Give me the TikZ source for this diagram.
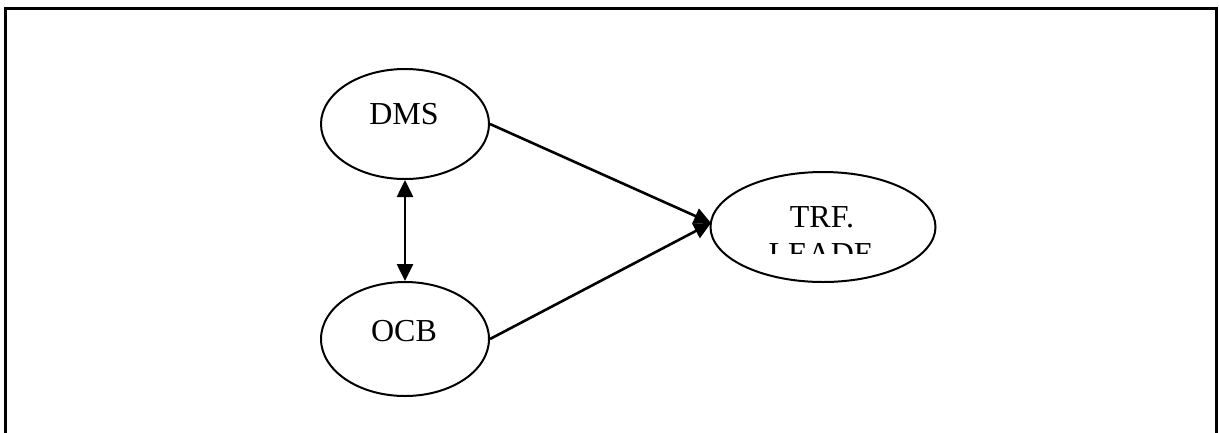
\documentclass[tikz,border=0pt]{standalone}
\usepackage{fontspec}
\setmainfont{Liberation Serif}
\usetikzlibrary{arrows.meta,shapes.geometric}
\begin{document}
\begin{tikzpicture}[x=1pt,y=-1pt,
  oval/.style={draw,line width=2pt,ellipse,inner sep=0pt},
  lbl/.style={font=\fontsize{32}{37}\selectfont,inner sep=0pt,anchor=base},
  tipA/.tip={Triangle[length=17pt,width=16pt]},
  conn/.style={line width=2.6pt,-tipA},
  frame/.style={line width=3pt}]
\useasboundingbox (0,0) rectangle (1219,432);
\draw[frame] (5.5,440) -- (5.5,8) -- (1216,8) -- (1216,440);
% ellipses
\node[oval,minimum width=168pt,minimum height=110pt] (dms) at (405,124) {};
\node[oval,minimum width=168pt,minimum height=114pt] (ocb) at (405,339) {};
\node[oval,minimum width=225pt,minimum height=110pt] (trf) at (823,227) {};
% labels
\node[lbl] (dmst) at (404,124) {DMS};
\node[lbl] (ocbt) at (404,341) {OCB};
\node[lbl] (trft) at (822,227) {TRF.};
\begin{scope}
\clip (740,230) rectangle (900,253);
\node[lbl] (leadt) at (821,264) {LEADE};
\end{scope}
% connectors
\coordinate (tip) at (711,223);
\draw[conn] (dms.east) -- (tip);
\draw[conn] (ocb.east) -- (tip);
\draw[line width=2.6pt,tipA-tipA] (dms.south) -- (ocb.north);
\end{tikzpicture}
\end{document}
